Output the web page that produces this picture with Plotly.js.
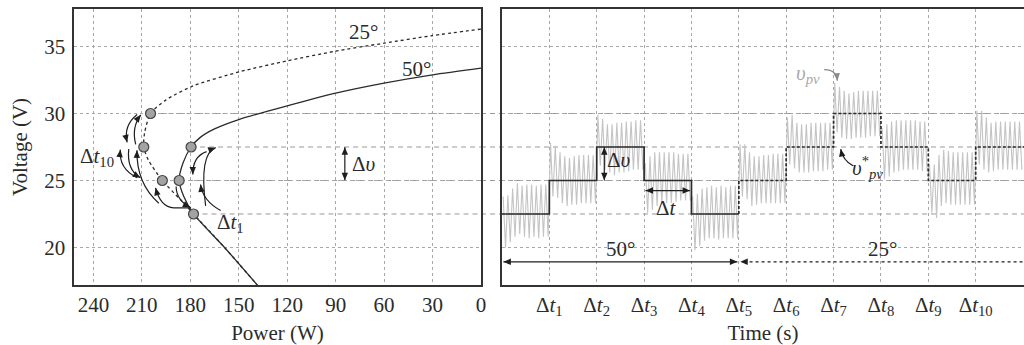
<!DOCTYPE html>
<html>
<head>
<meta charset="utf-8">
<script src="https://cdn.plot.ly/plotly-3.0.1.min.js"></script>
<style>
html,body{margin:0;padding:0;background:#fff;overflow:hidden;}
#chart{width:1024px;height:345px;}
</style>
</head>
<body>
<div id="chart"></div>
<script>
// ---------- data ----------
// P-V curves (power in W, voltage in V)
const curve25P = [0, 31, 60, 91, 120, 149, 178, 195, 204.6, 208.3, 208.8, 206, 197.3, 186, 178, 158.8, 138.5];
const curve25V = [36.3, 35.8, 35.25, 34.63, 33.93, 33.13, 32.07, 31.02, 30.0, 28.54, 27.5, 26.54, 25.0, 23.56, 22.5, 20.0, 17.2];
const curve50P = [0, 30, 60, 90, 120, 150, 165, 174, 179.5, 184.5, 186.9, 184, 178, 158.8, 138.5];
const curve50V = [33.39, 32.89, 32.27, 31.52, 30.57, 29.55, 28.85, 28.2, 27.5, 26.3, 25.0, 23.8, 22.5, 20.0, 17.2];
// operating points
const mpp25P = [204.6, 208.8, 197.3];
const mpp25V = [30, 27.5, 25];
const mpp50P = [179.5, 186.9, 178];
const mpp50V = [27.5, 25, 22.5];
// voltage levels with guide lines and the power where each guide starts
const guideLevels = [30, 27.5, 25, 22.5];
const guideStartP = [204.6, 179.5, 186.9, 178];
// time panel
const intervalLabels = ['Δ<i>t</i><sub>1</sub>','Δ<i>t</i><sub>2</sub>','Δ<i>t</i><sub>3</sub>','Δ<i>t</i><sub>4</sub>','Δ<i>t</i><sub>5</sub>',
  'Δ<i>t</i><sub>6</sub>','Δ<i>t</i><sub>7</sub>','Δ<i>t</i><sub>8</sub>','Δ<i>t</i><sub>9</sub>','Δ<i>t</i><sub>10</sub>'];
const intervalTicks = [1,2,3,4,5,6,7,8,9,10];
const refVolt = [22.5, 25, 27.5, 25, 22.5, 25, 27.5, 30, 27.5, 25, 27.5];
const vpvPeaks = [
  [23.8, 23.9, 24.4, 24.8, 24.6, 24.7, 24.7, 24.6, 24.7, 24.7],
  [27.8, 27.6, 27.1, 26.8, 26.7, 26.8, 26.9, 26.9, 26.9, 26.9],
  [29.9, 29.6, 29.2, 29.2, 29.3, 29.3, 29.4, 29.4, 29.5, 29.5],
  [26.3, 26.8, 27.1, 27.1, 27.1, 27.1, 27.1, 27.0, 27.0, 27.0],
  [23.8, 24.0, 24.4, 24.5, 24.6, 24.5, 24.6, 24.5, 24.6, 24.6],
  [27.7, 27.7, 27.1, 26.8, 26.8, 26.9, 26.9, 27.0, 27.0, 27.0],
  [29.7, 29.9, 29.3, 29.2, 29.2, 29.3, 29.3, 29.3, 29.3, 29.3],
  [32.3, 32.0, 31.7, 31.5, 31.6, 31.7, 31.7, 31.7, 31.7, 31.7],
  [28.9, 29.2, 29.4, 29.5, 29.5, 29.5, 29.5, 29.5, 29.4, 29.4],
  [26.2, 26.2, 26.9, 27.3, 27.2, 27.1, 27.1, 27.1, 27.1, 27.1],
  [30.2, 30.2, 29.7, 29.3, 29.4, 29.4, 29.4, 29.4, 29.4, 29.4]
];
const vpvTroughs = [
  [20.0, 20.4, 20.8, 21.0, 20.8, 20.7, 20.8, 20.7, 20.8, 20.8],
  [23.8, 23.7, 23.3, 23.1, 23.2, 23.2, 23.3, 23.3, 23.3, 23.3],
  [26.1, 25.8, 25.6, 25.4, 25.6, 25.6, 25.7, 25.8, 25.8, 25.8],
  [22.6, 22.8, 23.1, 23.3, 23.3, 23.3, 23.4, 23.5, 23.5, 23.5],
  [19.8, 20.1, 20.5, 20.7, 20.7, 20.6, 20.7, 20.7, 20.7, 20.7],
  [23.8, 23.6, 23.1, 23.2, 23.3, 23.3, 23.3, 23.3, 23.3, 23.3],
  [26.2, 25.9, 25.6, 25.6, 25.6, 25.7, 25.7, 25.7, 25.8, 25.8],
  [28.6, 28.2, 28.1, 28.1, 28.2, 28.2, 28.2, 28.3, 28.3, 28.3],
  [25.1, 25.3, 25.6, 25.7, 25.8, 25.8, 25.8, 25.8, 25.7, 25.7],
  [22.6, 22.2, 23.1, 23.3, 23.2, 23.2, 23.2, 23.2, 23.2, 23.2],
  [26.2, 25.8, 25.6, 25.7, 25.8, 25.8, 25.8, 25.8, 25.8, 25.8]
];
const switchInterval = 5; // 50° for the first five intervals, 25° afterwards

// ---------- style ----------
const FONT = 'Liberation Serif, "Times New Roman", serif';
const INK = '#2b2b2b';
const GRID = '#a8a8a8';
const TMAX = 11.02;

// ---------- build traces ----------
const vpvT = [], vpvV = [];
vpvPeaks.forEach((pk, k) => {
  pk.forEach((p, j) => {
    vpvT.push(k + (j + 0.25) / pk.length); vpvV.push(p);
    vpvT.push(k + (j + 0.75) / pk.length); vpvV.push(vpvTroughs[k][j]);
  });
});
const solidT = [], solidV = [];
for (let k = 0; k < switchInterval; k++) { solidT.push(k); solidV.push(refVolt[k]); }
solidT.push(switchInterval); solidV.push(refVolt[switchInterval - 1]);
const dashT = [switchInterval], dashV = [refVolt[switchInterval - 1]];
for (let k = switchInterval; k < refVolt.length; k++) { dashT.push(k); dashV.push(refVolt[k]); }
dashT.push(TMAX); dashV.push(refVolt[refVolt.length - 1]);

const data = [
  {x: curve50P, y: curve50V, xaxis: 'x', yaxis: 'y', mode: 'lines',
   line: {color: INK, width: 1.3, shape: 'spline', smoothing: 0.7}},
  {x: curve25P, y: curve25V, xaxis: 'x', yaxis: 'y', mode: 'lines',
   line: {color: INK, width: 1.3, dash: 'dot', shape: 'spline', smoothing: 0.7}},
  {x: mpp25P.concat(mpp50P), y: mpp25V.concat(mpp50V), xaxis: 'x', yaxis: 'y', mode: 'markers',
   marker: {size: 10, color: '#a3a3a3', line: {color: '#444', width: 1.2}}},
  {x: vpvT, y: vpvV, xaxis: 'x2', yaxis: 'y2', mode: 'lines',
   line: {color: '#c4c4c4', width: 1.1}},
  {x: solidT, y: solidV, xaxis: 'x2', yaxis: 'y2', mode: 'lines',
   line: {color: INK, width: 1.7, shape: 'hv'}},
  {x: dashT, y: dashV, xaxis: 'x2', yaxis: 'y2', mode: 'lines',
   line: {color: INK, width: 1.7, shape: 'hv', dash: '3px,2px'}}
];

// ---------- decorations ----------
const shapes = [];
const annotations = [];
const LEFT_END = 0.4284, RIGHT_START = 0.4505;
const LPX = -950 * LEFT_END / 252, LPY = 276 / 20.6, RPX = 950 * (1 - RIGHT_START) / TMAX;

guideLevels.forEach((v, i) => {
  shapes.push({type: 'line', xref: 'x', yref: 'y', x0: guideStartP[i], x1: 0, y0: v, y1: v,
    line: {color: '#999', width: 1, dash: '5px,4px'}, layer: 'below'});
  shapes.push({type: 'line', xref: 'paper', yref: 'y', x0: LEFT_END, x1: 1, y0: v, y1: v,
    line: {color: '#999', width: 1, dash: '5px,4px'}, layer: 'below'});
});

// filled triangular arrowhead at tip, coming from point 'from' (data units)
function head(xr, yr, pxX, pxY, tip, from, col) {
  let vx = (tip[0] - from[0]) * pxX, vy = -(tip[1] - from[1]) * pxY;
  const L = Math.hypot(vx, vy) || 1; vx /= L; vy /= L;
  const len = 7.5, hw = 3.2;
  const bx = -vx * len, by = -vy * len;
  const pts = [[0, 0], [bx - vy * hw, by + vx * hw], [bx + vy * hw, by - vx * hw]];
  const toD = p => [tip[0] + p[0] / pxX, tip[1] - p[1] / pxY];
  const d = pts.map(toD);
  shapes.push({type: 'path', xref: xr, yref: yr,
    path: 'M' + d[0].join(',') + ' L' + d[1].join(',') + ' L' + d[2].join(',') + ' Z',
    fillcolor: col || '#1e1e1e', line: {width: 0}});
}
// curved arrow: start, control, end (data units), head at end
function curved(xr, yr, pxX, pxY, s, c, e, pre, col) {
  let d = (pre ? 'M' + pre[0] + ',' + pre[1] + ' L' + s[0] + ',' + s[1] : 'M' + s[0] + ',' + s[1]) +
          ' Q' + c[0] + ',' + c[1] + ' ' + e[0] + ',' + e[1];
  shapes.push({type: 'path', xref: xr, yref: yr, path: d, line: {color: col || '#1e1e1e', width: 1.2}});
  head(xr, yr, pxX, pxY, e, c, col);
}
function dbl(xr, yr, pxX, pxY, a, b) {
  shapes.push({type: 'line', xref: xr, yref: yr, x0: a[0], y0: a[1], x1: b[0], y1: b[1],
    line: {color: '#1e1e1e', width: 1.2}});
  head(xr, yr, pxX, pxY, a, b); head(xr, yr, pxX, pxY, b, a);
}
// left-panel arrows (P, V)
curved('x','y',LPX,LPY,[212.9,29.93],[221.5,29.1],[219.1,27.85]);
curved('x','y',LPX,LPY,[213.8,27.7],[216.5,29.0],[210.6,29.9]);
curved('x','y',LPX,LPY,[212.9,25.2],[224.5,25.9],[223.3,27.3]);
curved('x','y',LPX,LPY,[218.1,27.35],[219.5,25.8],[210.9,25.2]);
curved('x','y',LPX,LPY,[199.5,23.3],[213.5,24.8],[213.0,27.25]);
curved('x','y',LPX,LPY,[190.2,22.96],[198.4,23.0],[201.5,24.45],[179.5,22.96]);
curved('x','y',LPX,LPY,[188.8,24.55],[188.5,23.5],[180.0,23.0]);
curved('x','y',LPX,LPY,[169.9,27.16],[178.6,26.8],[178.4,25.45]);
curved('x','y',LPX,LPY,[170.5,23.1],[174.6,27.0],[164.3,27.45]);
curved('x','y',LPX,LPY,[161.2,22.76],[172.4,23.5],[173.6,24.7]);
dbl('x','y',LPX,LPY,[84.3,25.02],[84.3,27.48]);

// right-panel arrows
dbl('x2','y2',RPX,LPY,[2.16,25.02],[2.16,27.48]);
dbl('x2','y2',RPX,LPY,[3.03,24.25],[3.97,24.25]);
dbl('x2','y2',RPX,LPY,[0.03,18.93],[4.97,18.93]);
shapes.push({type:'line', xref:'x2', yref:'y2', x0:5.1, x1:TMAX, y0:18.93, y1:18.93, line:{color:'#1e1e1e', width:1.3, dash:'dot'}});
head('x2','y2',RPX,LPY,[5.03,18.93],[5.5,18.93]);
curved('x2','y2',RPX,LPY,[6.8,33.28],[7.06,33.3],[7.08,32.45],null,'#8a8a8a');
curved('x2','y2',RPX,LPY,[7.41,26.1],[7.2,26.5],[7.15,27.35]);

const T = (txt, xr, yr, x, y, extra) => annotations.push(Object.assign({xref: xr, yref: yr, x: x, y: y, text: txt,
  showarrow: false, font: {family: FONT, size: 21, color: INK}}, extra || {}));
T('25°', 'x', 'y', 73, 36.05);
T('50°', 'x', 'y', 40, 33.3);
T('Δ<i>υ</i>', 'x', 'y', 72.5, 26.25);
T('Δ<i>t</i><sub>10</sub>', 'x', 'y', 237.5, 26.75);
T('Δ<i>t</i><sub>1</sub>', 'x', 'y', 155, 21.85);
T('Δ<i>υ</i>', 'x2', 'y2', 2.47, 26.55);
T('Δ<i>t</i>', 'x2', 'y2', 3.47, 22.96);
T('50°', 'x2', 'y2', 2.5, 19.9);
T('25°', 'x2', 'y2', 8.04, 19.9);
T('<i>υ<sub>pv</sub></i>', 'x2', 'y2', 6.45, 32.95, {font: {family: FONT, size: 21, color: '#a9a9a9'}});
T('<i>υ</i><sup>*</sup><sub><i>pv</i></sub>', 'x2', 'y2', 7.72, 25.95);

const axisCommon = {
  showline: true, mirror: true, linecolor: '#333', linewidth: 1.6,
  showgrid: true, gridcolor: GRID, gridwidth: 1, griddash: 'dot',
  zeroline: false, ticks: '', ticklen: 0, ticklabelstandoff: 0,
  tickfont: {family: FONT, size: 21, color: INK}
};

const layout = {
  width: 1024, height: 345,
  margin: {l: 74, r: 0, t: 9, b: 60},
  paper_bgcolor: '#fff', plot_bgcolor: '#fff',
  showlegend: false,
  font: {family: FONT, size: 21, color: INK},
  xaxis: Object.assign({}, axisCommon, {domain: [0, LEFT_END], range: [252, 0], tick0: 0, dtick: 30,
    anchor: 'y', title: {text: 'Power (W)', font: {family: FONT, size: 21, color: INK}, standoff: 12}}),
  yaxis: Object.assign({}, axisCommon, {domain: [0, 1], range: [17.2, 37.8], tick0: 0, dtick: 5,
    anchor: 'x', ticklabelstandoff: 3, title: {text: 'Voltage (V)', font: {family: FONT, size: 21, color: INK}, standoff: 11}}),
  xaxis2: Object.assign({}, axisCommon, {domain: [RIGHT_START, 1], range: [0, TMAX], tickmode: 'array',
    tickvals: intervalTicks, ticktext: intervalLabels, anchor: 'y2',
    title: {text: 'Time (s)', font: {family: FONT, size: 21, color: INK}, standoff: 11}}),
  yaxis2: Object.assign({}, axisCommon, {domain: [0, 1], range: [17.2, 37.8], tick0: 0, dtick: 5,
    anchor: 'x2', showticklabels: false}),
  shapes: shapes,
  annotations: annotations
};

Plotly.newPlot('chart', data, layout, {staticPlot: true, displayModeBar: false});
</script>
</body>
</html>
